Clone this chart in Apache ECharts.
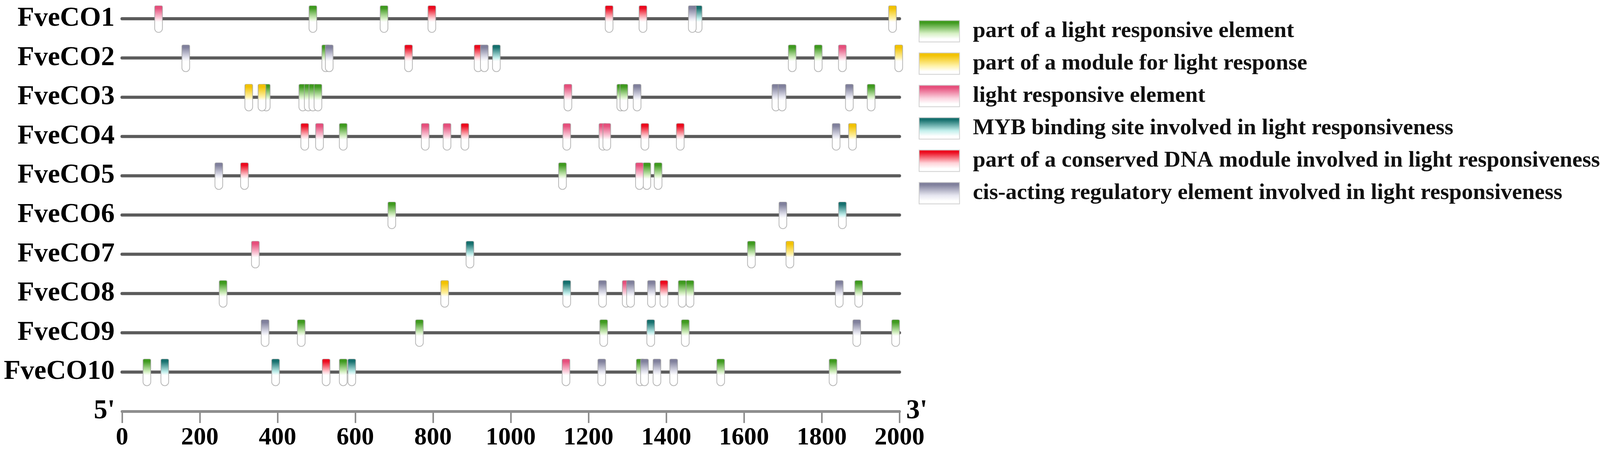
<!DOCTYPE html>
<html>
<head>
<meta charset="utf-8">
<script src="https://cdn.jsdelivr.net/npm/echarts@6/dist/echarts.min.js"></script>
<style>
html,body{margin:0;padding:0;background:#fff;overflow:hidden;}
#chart{width:100vw;height:100vh;}
</style>
</head>
<body>
<div id="chart"></div>
<script>
// ---------- data ----------
const geneNames = ['FveCO1','FveCO2','FveCO3','FveCO4','FveCO5','FveCO6','FveCO7','FveCO8','FveCO9','FveCO10'];
const geneLengths = [2000,2000,2000,2000,2000,2000,2000,2000,2000,2000];

const elementTypes = [
  'part of a light responsive element',
  'part of a module for light response',
  'light responsive element',
  'MYB binding site involved in light responsiveness',
  'part of a conserved DNA module involved in light responsiveness',
  'cis-acting regulatory element involved in light responsiveness'
];

// [position (bp), gene row (1 = FveCO1)]
const greenSites = [
  [491,1],[674,1],
  [524,2],[1724,2],[1791,2],
  [371,3],[465,3],[479,3],[491,3],[504,3],[1283,3],[1291,3],[1927,3],
  [569,4],
  [1133,5],[1350,5],[1379,5],
  [694,6],
  [1619,7],
  [260,8],[1441,8],[1461,8],[1895,8],
  [461,9],[765,9],[1239,9],[1449,9],[1990,9],
  [64,10],[569,10],[1333,10],[1540,10],[1829,10]
];
const yellowSites = [
  [1982,1],[1998,2],[326,3],[360,3],[1879,4],[1718,7],[830,8]
];
const pinkSites = [
  [94,1],[1853,2],[1147,3],
  [508,4],[780,4],[836,4],[1144,4],[1237,4],[1247,4],
  [1331,5],[343,7],[1297,8],[1142,10]
];
const tealSites = [
  [1482,1],[963,2],[1853,6],[895,7],[1144,8],[1360,9],[110,10],[395,10],[591,10]
];
const redSites = [
  [797,1],[1253,1],[1340,1],
  [737,2],[916,2],
  [470,4],[882,4],[1345,4],[1436,4],
  [315,5],[1394,8],[525,10]
];
const purpleSites = [
  [1467,1],
  [164,2],[533,2],[932,2],
  [1325,3],[1682,3],[1698,3],[1871,3],
  [1837,4],[249,5],[1700,6],
  [1236,8],[1308,8],[1362,8],[1845,8],
  [368,9],[1890,9],
  [1234,10],[1344,10],[1376,10],[1419,10]
];
const xMin = 0, xMax = 2000, xTickInterval = 200;

// ---------- layout (reference drawn at 4550 x 1166; scaled to the real window) ----------
const W = window.innerWidth || 4550;
const H = window.innerHeight || 1166;
const sx = W / 4550, sy = H / 1166;

const palette = [
  {dark:'#3f9a1f', light:'#d6f0c4'},
  {dark:'#f2c200', light:'#fff2a8'},
  {dark:'#e64f7c', light:'#fbd3df'},
  {dark:'#16706e', light:'#c2efec'},
  {dark:'#ec0a1e', light:'#ffd2d8'},
  {dark:'#80809c', light:'#e6e6f0'}
];
const siteSets = [greenSites, yellowSites, pinkSites, tealSites, redSites, purpleSites];
const FONT = "'Liberation Serif','Times New Roman',serif";

function glyphGradient(c){
  return {type:'linear',x:0,y:0,x2:0,y2:1,colorStops:[
    {offset:0,color:c.dark},{offset:0.1,color:c.dark},
    {offset:0.48,color:c.light},{offset:0.6,color:'#ffffff'},{offset:1,color:'#ffffff'}]};
}
function legendGradient(c){
  return {type:'linear',x:0,y:0,x2:0,y2:1,colorStops:[
    {offset:0,color:c.dark},{offset:0.12,color:c.dark},
    {offset:0.6,color:c.light},{offset:0.85,color:'#ffffff'},{offset:1,color:'#ffffff'}]};
}

const chart = echarts.init(document.getElementById('chart'), null, {renderer:'canvas', width:W, height:H});

const series = [];
series.push({
  type:'custom',
  name:'genes',
  z:1,
  silent:true,
  encode:{x:[0,2], y:1},
  data: geneNames.map((n,i)=>[0, i+1, geneLengths[i]]),
  renderItem:(params, api)=>{
    const s = api.coord([api.value(0), api.value(1)]);
    const e = api.coord([api.value(2), api.value(1)]);
    return {type:'line', shape:{x1:s[0],y1:s[1],x2:e[0],y2:e[1]},
      style:{stroke:'#5b5b5b', lineWidth:8*sy, lineCap:'round'}};
  }
});

elementTypes.forEach((name, k)=>{
  const c = palette[k];
  series.push({
    type:'custom',
    name:name,
    z:2,
    encode:{x:0, y:1},
    itemStyle:{color:legendGradient(c), borderColor:'#cfcfcf', borderWidth:2},
    data: siteSets[k],
    renderItem:(params, api)=>{
      const p = api.coord([api.value(0), api.value(1)]);
      const w = 22*sx, up = 33*sy, down = 35*sy;
      return {type:'group', children:[
        {type:'rect', shape:{x:p[0]-w/2, y:p[1]-up, width:w, height:up+down, r:[3,3,10,10]},
          style:{fill:glyphGradient(c), stroke:'rgba(160,160,160,0.75)', lineWidth:2}},
        {type:'rect', shape:{x:p[0]-w/2+1, y:p[1]-up, width:w-2, height:5*sy, r:[3,3,0,0]},
          style:{fill:c.dark}}
      ]};
    }
  });
});

const option = {
  backgroundColor:'#ffffff',
  animation:false,
  grid:{left:347*sx, right:1992*sx, top:48*sy, bottom:112*sy, containLabel:false},
  legend:{
    orient:'vertical',
    left:2607*sx, top:46*sy,
    icon:'rect',
    itemWidth:115*sx, itemHeight:55*sy, itemGap:25*sy,
    data: elementTypes,
    selectedMode:false,
    textStyle:{fontFamily:FONT, fontWeight:'bold', fontSize:58, color:'#111',
      padding:[0,0,0,Math.max(0,(2760-2722)*sx-5)], lineHeight:55*sy}
  },
  xAxis:[{
    type:'value', min:xMin, max:xMax, interval:xTickInterval, position:'bottom',
    name:"3'", nameLocation:'end', nameGap:19*sx,
    nameTextStyle:{fontFamily:FONT, fontWeight:'bold', fontSize:70, color:'#000', padding:[0,0,14,0]},
    axisLine:{show:true, lineStyle:{color:'#8e8e8e', width:7}},
    axisTick:{show:true, length:30*sy, lineStyle:{color:'#8e8e8e', width:4}},
    axisLabel:{fontFamily:FONT, fontWeight:'bold', fontSize:64, color:'#000', margin:36*sy,
      formatter:(v)=> String(v)},
    splitLine:{show:false}
  },{
    type:'value', min:xMin, max:xMax, interval:xTickInterval, position:'bottom',
    name:"5'", nameLocation:'start', nameGap:20*sx,
    nameTextStyle:{fontFamily:FONT, fontWeight:'bold', fontSize:70, color:'#000', padding:[0,0,14,0]},
    axisLine:{show:false}, axisTick:{show:false}, axisLabel:{show:false}, splitLine:{show:false}
  }],
  yAxis:{
    type:'value', min:1, max:11, interval:1, inverse:true,
    axisLine:{show:false}, axisTick:{show:false}, splitLine:{show:false},
    axisLabel:{
      fontFamily:FONT, fontWeight:'bold', fontSize:70, color:'#000', margin:21*sx,
      formatter:(v)=> geneNames[v-1] || ''
    }
  },
  series: series
};
chart.setOption(option);
</script>
</body>
</html>
